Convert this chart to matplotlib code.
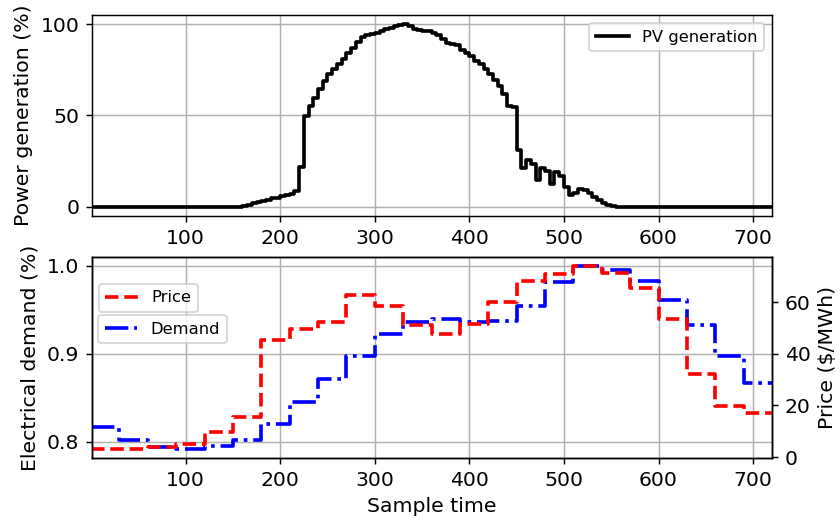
import numpy as np
import matplotlib
matplotlib.use("Agg")
import matplotlib.pyplot as plt

# PV generation (%), one value every 5 samples (144 values, 0..715)
pv_active = [0.5, 1.2, 2.0, 2.7, 3.3, 4.0, 4.6, 5.1, 5.8, 6.4, 7.2, 8.5,
             21.8, 49.5, 55.0, 59.4, 64.4, 68.9, 72.5, 75.2, 78.2, 80.9,
             84.2, 87.2, 90.1, 92.8, 94.2, 94.6, 95.3, 96.2, 97.1, 98.0,
             98.8, 99.8, 100.0, 99.0, 97.5, 96.8, 96.5, 96.0, 95.0, 94.0,
             91.7, 89.6, 89.0, 88.7, 86.0, 84.0, 82.4, 80.0, 78.0, 75.5,
             72.5, 69.5, 66.0, 62.0, 55.0, 54.6, 31.0, 21.0, 25.5, 23.6,
             14.6, 21.5, 19.5, 12.4, 19.0, 17.0, 10.9, 6.5, 7.5, 10.0,
             9.5, 7.5, 5.5, 3.6, 2.2, 1.0, 0.3, 0.0]
pv = [0.0] * 32 + pv_active + [0.0] * 32

# Hourly demand (p.u.) and price ($/MWh), 24 values each (30 samples per hour)
demand = [0.8167, 0.8023, 0.794, 0.792, 0.7948, 0.8016, 0.8205, 0.845,
          0.8715, 0.898, 0.9226, 0.9365, 0.9395, 0.9365, 0.937, 0.9546,
          0.982, 0.9995, 0.995, 0.983, 0.9615, 0.933, 0.898, 0.867]
price = [3.2, 3.2, 3.9, 5.2, 9.7, 15.5, 45.2, 49.4, 52.3, 62.6, 58.5, 51.0,
         47.8, 51.6, 60.0, 68.1, 71.0, 73.9, 71.2, 65.4, 53.3, 32.0, 19.6, 17.0]

pv_ticks = [0, 50, 100]
demand_ticks = [0.8, 0.9, 1.0]
price_ticks = [0, 20, 40, 60]

pv_x = np.append(np.arange(len(pv)) * 5, 720)
pv_y = np.append(pv, pv[-1])
hr_x = np.append(np.arange(len(demand)) * 30, 720)
dem_y = np.append(demand, demand[-1])
pr_y = np.append(price, price[-1])

plt.rcParams['font.size'] = 11.2
plt.rcParams['legend.fontsize'] = 9

fig = plt.figure(figsize=(6.4, 522 / 131.25), dpi=131.25)
ax1 = fig.add_axes([92 / 840, 1 - 216 / 522, 680 / 840, 201 / 522])
ax2 = fig.add_axes([92 / 840, 1 - 458 / 522, 680 / 840, 201 / 522])

ax1.step(pv_x, pv_y, where='post', color='k', lw=2, label='PV generation')
ax1.set_xlim(1, 720)
ax1.set_yticks(pv_ticks)
ax1.set_ylabel('Power generation (%)')
ax1.grid(True)
ax1.legend(loc='upper right')

ax2.step(hr_x, dem_y, where='post', color='b', ls='-.', lw=2, label='Demand')
ax2.set_xlim(1, 720)
ax2.set_yticks(demand_ticks)
ax2.set_ylabel('Electrical demand (%)')
ax2.set_xlabel('Sample time')
ax2.grid(True)
ax2.legend(loc='upper left', bbox_to_anchor=(0.009, 0.711), borderaxespad=0)

ax3 = ax2.twinx()
ax3.step(hr_x, pr_y, where='post', color='r', ls='--', lw=2, label='Price')
ax3.set_ylabel(r'Price (\$/MWh)')
ax3.set_yticks(price_ticks)
ax3.legend(loc='upper left', bbox_to_anchor=(0.010, 0.866), borderaxespad=0)
ax2.set_xlim(1, 720)

fig.align_ylabels([ax1, ax2])
fig.savefig('out.png', dpi=131.25)
